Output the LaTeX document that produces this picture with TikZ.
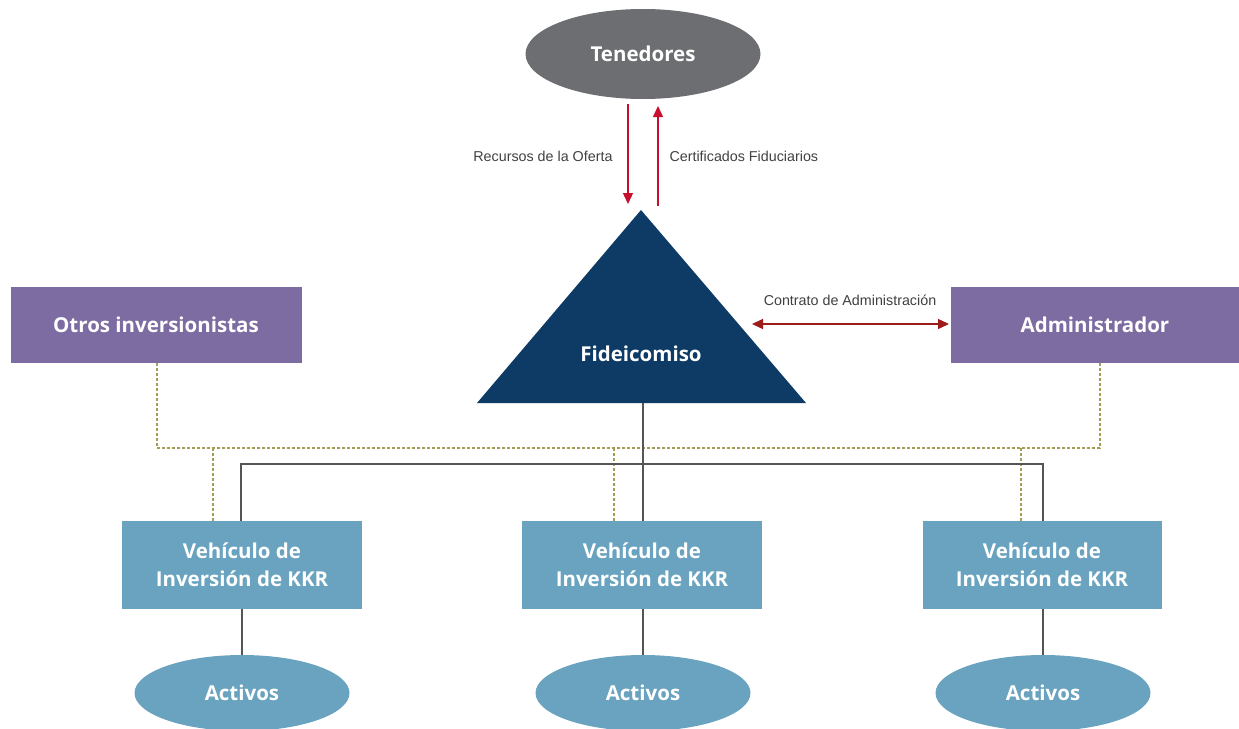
\documentclass[tikz,border=0pt]{standalone}
\usepackage{fontspec}
\setmainfont{Open Sans}
\usetikzlibrary{shapes.geometric,arrows.meta}
\definecolor{tgray}{HTML}{6D6E71}
\definecolor{tnavy}{HTML}{0D3B66}
\definecolor{tpurple}{HTML}{7C6CA2}
\definecolor{tblue}{HTML}{69A3BF}
\definecolor{tolive}{HTML}{A39E55}
\definecolor{tred}{HTML}{C8102E}
\definecolor{tdred}{HTML}{9E1B1B}
\definecolor{tline}{HTML}{555555}
\tikzset{
  lbl/.style={font=\fontsize{20.5}{28}\selectfont\bfseries, text=white, align=center},
  small/.style={font=\fontspec{Liberation Sans}\fontsize{14.3}{16}\selectfont, text=black!75},
  pbox/.style={fill=tpurple, minimum width=291pt, minimum height=76pt, inner sep=0pt, lbl},
  vbox/.style={fill=tblue, minimum width=240pt, minimum height=88pt, inner sep=0pt, lbl},
  aell/.style={ellipse, fill=tblue, minimum width=215pt, minimum height=76pt, inner sep=0pt, lbl},
  redarrow/.style={draw=tred, line width=1.3pt, -{Triangle[width=10pt,length=11pt]}},
  dbl/.style={draw=tdred, line width=1.3pt, {Triangle[width=10pt,length=11pt]}-{Triangle[width=10pt,length=11pt]}},
  dline/.style={draw=tolive, line width=2pt, dash pattern=on 3pt off 2pt},
  sline/.style={draw=tline, line width=1.3pt},
}
\begin{document}
\begin{tikzpicture}[x=1pt,y=-1pt]
\useasboundingbox (0,0) rectangle (1239,728);
% Tenedores
\node[ellipse, fill=tgray, minimum width=235pt, minimum height=90pt, inner sep=0pt, lbl] (ten) at (643,54) {Tenedores};
% Triangle
\coordinate (apex) at (641,210);
\coordinate (bl) at (477,403);
\coordinate (br) at (806,403);
\fill[tnavy] (apex) -- (br) -- (bl) -- cycle;
\node[lbl] (fid) at (641,354) {Fideicomiso};
\coordinate (tribase) at (643,403);
% red arrows
\coordinate (d1) at (628,104);
\coordinate (d2) at (628,204);
\coordinate (u1) at (658,206);
\coordinate (u2) at (658,106);
\draw[redarrow] (d1) -- (d2);
\draw[redarrow] (u1) -- (u2);
\node[small, anchor=east] (rec) at (616,156) {Recursos de la Oferta};
\node[small, anchor=west] (cert) at (666,156) {Certificados Fiduciarios};
% side boxes
\node[pbox] (otros) at (156,325) {Otros inversionistas};
\node[pbox, minimum width=289pt] (adm) at (1095,325) {Administrador};
\node[small] (contr) at (850,300) {Contrato de Administración};
\coordinate (ca1) at (752,324);
\coordinate (ca2) at (949,324);
\draw[dbl] (ca1) -- (ca2);
% vehicles
\node[vbox] (v1) at (242,565) {Vehículo de\\Inversión de KKR};
\node[vbox] (v2) at (642,565) {Vehículo de\\Inversión de KKR};
\node[vbox, minimum width=239pt] (v3) at (1042,565) {Vehículo de\\Inversión de KKR};
% activos
\node[aell] (a1) at (242,693) {Activos};
\node[aell] (a2) at (643,693) {Activos};
\node[aell] (a3) at (1043,693) {Activos};
% dashed olive network
\coordinate (dl) at (157,448);
\coordinate (dr) at (1100,448);
\draw[dline] (otros.south -| dl) -- (dl) -- (dr) -- (adm.south -| dr);
\draw[dline] (213,448) -- (v1.north -| 213,0);
\draw[dline] (614,448) -- (v2.north -| 614,0);
\draw[dline] (1021,448) -- (v3.north -| 1021,0);
% solid lines
\coordinate (sl) at (241,464);
\coordinate (sr) at (1043,464);
\draw[sline] (tribase) -- (v2.north -| tribase);
\draw[sline] (v1.north -| sl) -- (sl) -- (sr) -- (v3.north -| sr);
\draw[sline] (v1.south) -- (a1.north);
\draw[sline] (v2.south -| a2.north) -- (a2.north);
\draw[sline] (v3.south -| a3.north) -- (a3.north);
\end{tikzpicture}
\end{document}
